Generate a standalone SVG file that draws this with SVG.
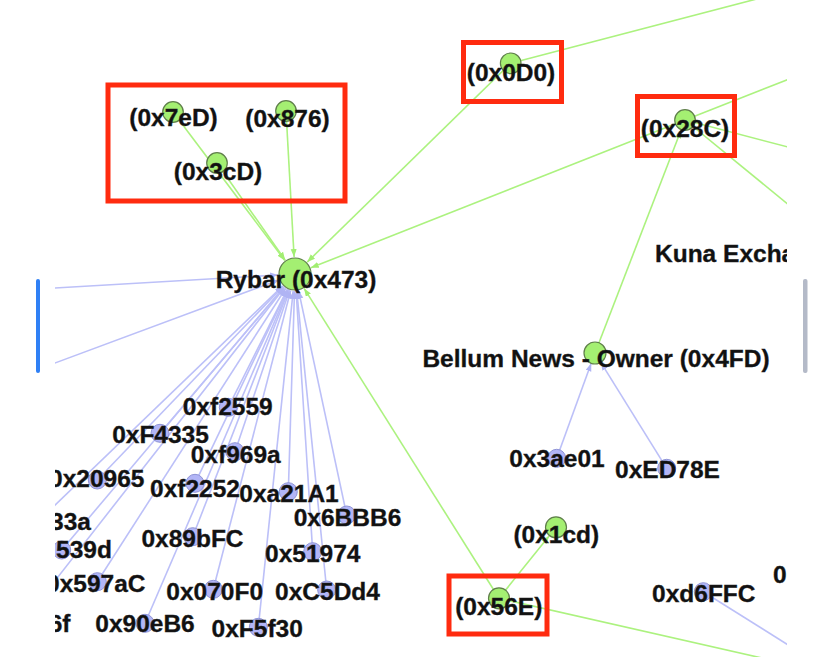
<svg xmlns="http://www.w3.org/2000/svg" width="839" height="668" viewBox="0 0 839 668">
<style>
.ge{stroke:#acf27f;stroke-width:1.6;fill:none}
.be{stroke:#bcc0f8;stroke-width:1.6;fill:none}
.gn{fill:#a4ef72;stroke:#5f7f4a;stroke-width:1.2}
.bn{fill:#b2b5f6;stroke:#8e93d6;stroke-width:1}
.lbl{font-family:"Liberation Sans",Arial,Helvetica,sans-serif;font-weight:bold;font-size:24.5px;fill:#111;stroke:#222;stroke-width:0.35;text-anchor:middle}
.lbs{font-family:"Liberation Sans",Arial,Helvetica,sans-serif;font-weight:bold;font-size:24.5px;fill:#111;stroke:#222;stroke-width:0.35;text-anchor:start}
.hl{fill:none;stroke:#ff2b0f;stroke-width:5}
</style>
<defs>
<clipPath id="canvas"><rect x="55" y="0" width="732" height="657"/></clipPath>
<marker id="ag" markerUnits="userSpaceOnUse" markerWidth="9" markerHeight="7" refX="8" refY="3" orient="auto"><path d="M0,0 L8,3 L0,6 z" fill="#a2ee72"/></marker>
<marker id="ab" markerUnits="userSpaceOnUse" markerWidth="9" markerHeight="7" refX="8" refY="3" orient="auto"><path d="M0,0 L8,3 L0,6 z" fill="#b0b4f4"/></marker>
</defs>
<rect width="839" height="668" fill="#ffffff"/>
<rect x="36" y="279" width="4" height="94" rx="2" fill="#2f80f5"/>
<rect x="803" y="279" width="4.5" height="94" rx="2" fill="#b4bac8"/>
<g clip-path="url(#canvas)">
<g id="connectors">
<line class="be" x1="228.3" y1="407.3" x2="287.4" y2="289.2" marker-end="url(#ab)"/>
<line class="be" x1="160" y1="433.3" x2="284" y2="287" marker-end="url(#ab)"/>
<line class="be" x1="235" y1="451.7" x2="289.6" y2="290.1" marker-end="url(#ab)"/>
<line class="be" x1="97.3" y1="480" x2="283.2" y2="286.3" marker-end="url(#ab)"/>
<line class="be" x1="195" y1="483.3" x2="287.7" y2="289.3" marker-end="url(#ab)"/>
<line class="be" x1="288.3" y1="491.7" x2="294.5" y2="291" marker-end="url(#ab)"/>
<line class="be" x1="346.7" y1="515" x2="298.6" y2="290.6" marker-end="url(#ab)"/>
<line class="be" x1="14" y1="544.5" x2="282.8" y2="285.8" marker-end="url(#ab)"/>
<line class="be" x1="61.7" y1="550" x2="284" y2="287" marker-end="url(#ab)"/>
<line class="be" x1="97.3" y1="581.7" x2="285.8" y2="288.3" marker-end="url(#ab)"/>
<line class="be" x1="30" y1="612.7" x2="284.5" y2="287.4" marker-end="url(#ab)"/>
<line class="be" x1="192.7" y1="536.7" x2="288.8" y2="289.8" marker-end="url(#ab)"/>
<line class="be" x1="312.7" y1="551.7" x2="296.1" y2="291" marker-end="url(#ab)"/>
<line class="be" x1="213.3" y1="589.3" x2="290.7" y2="290.5" marker-end="url(#ab)"/>
<line class="be" x1="326.7" y1="590" x2="296.7" y2="290.9" marker-end="url(#ab)"/>
<line class="be" x1="145" y1="623.3" x2="288.3" y2="289.6" marker-end="url(#ab)"/>
<line class="be" x1="258.3" y1="627.3" x2="293.2" y2="290.9" marker-end="url(#ab)"/>
<line class="be" x1="-4.4" y1="291.4" x2="278" y2="275" marker-end="url(#ab)"/>
<line class="be" x1="13.8" y1="378.3" x2="279.1" y2="279.9" marker-end="url(#ab)"/>
<line class="be" x1="556.7" y1="458.3" x2="591.2" y2="363.3" marker-end="url(#ab)"/>
<line class="be" x1="666.7" y1="468.3" x2="600.8" y2="362.3" marker-end="url(#ab)"/>
<line class="be" x1="703.3" y1="591.7" x2="850" y2="683.7"/>
<line class="ge" x1="173" y1="112" x2="284.8" y2="260.4" marker-end="url(#ag)"/>
<line class="ge" x1="217" y1="163" x2="285.2" y2="260.1" marker-end="url(#ag)"/>
<line class="ge" x1="286" y1="111" x2="294.1" y2="257" marker-end="url(#ag)"/>
<line class="ge" x1="510.7" y1="63.3" x2="307.2" y2="262.1" marker-end="url(#ag)"/>
<line class="ge" x1="685" y1="120" x2="310.8" y2="267.8" marker-end="url(#ag)"/>
<line class="ge" x1="499" y1="598.3" x2="304.1" y2="288.4" marker-end="url(#ag)"/>
<line class="ge" x1="595" y1="353" x2="681" y2="130.3" marker-end="url(#ag)"/>
<line class="ge" x1="499" y1="598.3" x2="549.1" y2="535.9" marker-end="url(#ag)"/>
<line class="ge" x1="499" y1="598.3" x2="850" y2="678"/>
<line class="ge" x1="510.7" y1="63.3" x2="850" y2="-25.4"/>
<line class="ge" x1="685" y1="120" x2="850" y2="55.1"/>
<line class="ge" x1="685" y1="120" x2="850" y2="163.3"/>
<line class="ge" x1="685" y1="120" x2="850" y2="255"/>
</g>
<g id="n-rybar"><circle class="gn" cx="295" cy="274" r="16"/><text class="lbl" x="296" y="288">Rybar (0x473)</text></g>
<g id="n-7eD"><circle class="gn" cx="173" cy="112" r="10.3"/><text class="lbl" x="173.5" y="126">(0x7eD)</text></g>
<g id="n-876"><circle class="gn" cx="286" cy="111" r="10.3"/><text class="lbl" x="287.5" y="127">(0x876)</text></g>
<g id="n-3cD"><circle class="gn" cx="217" cy="163" r="10.3"/><text class="lbl" x="218" y="180">(0x3cD)</text></g>
<g id="n-0D0"><circle class="gn" cx="510.7" cy="63.3" r="10.3"/><text class="lbl" x="511" y="81">(0x0D0)</text></g>
<g id="n-28C"><circle class="gn" cx="685" cy="120" r="10.3"/><text class="lbl" x="685" y="137">(0x28C)</text></g>
<g id="n-kuna"><text class="lbs" x="655" y="261.7">Kuna Excha</text></g>
<g id="n-4FD"><circle class="gn" cx="595" cy="353" r="11"/><text class="lbl" x="596" y="366.7">Bellum News - Owner (0x4FD)</text></g>
<g id="n-1cd"><circle class="gn" cx="556" cy="527.3" r="10.5"/><text class="lbl" x="556.3" y="543.3">(0x1cd)</text></g>
<g id="n-56E"><circle class="gn" cx="499" cy="598.3" r="10.5"/><text class="lbl" x="498.8" y="615">(0x56E)</text></g>
<g id="n-3ae01"><circle class="bn" cx="556.7" cy="458.3" r="9"/><text class="lbl" x="557" y="467.3">0x3ae01</text></g>
<g id="n-ED78E"><circle class="bn" cx="666.7" cy="468.3" r="9"/><text class="lbl" x="667.5" y="478.3">0xED78E</text></g>
<g id="n-d6FFC"><circle class="bn" cx="703.3" cy="591.7" r="9"/><text class="lbl" x="703.8" y="601.7">0xd6FFC</text></g>
<g id="n-0"><text class="lbs" x="773" y="583.3">0</text></g>
<g id="n-f2559"><circle class="bn" cx="228.3" cy="407.3" r="9"/><text class="lbl" x="227.7" y="415">0xf2559</text></g>
<g id="n-F4335"><circle class="bn" cx="160" cy="433.3" r="9"/><text class="lbl" x="160.5" y="443.3">0xF4335</text></g>
<g id="n-f969a"><circle class="bn" cx="235" cy="451.7" r="9"/><text class="lbl" x="235.7" y="462.7">0xf969a</text></g>
<g id="n-20965"><circle class="bn" cx="97.3" cy="480" r="9"/><text class="lbs" x="49" y="486.7">0x20965</text></g>
<g id="n-f2252"><circle class="bn" cx="195" cy="483.3" r="9"/><text class="lbl" x="195" y="496.7">0xf2252</text></g>
<g id="n-a21A1"><circle class="bn" cx="288.3" cy="491.7" r="9"/><text class="lbl" x="289" y="501.7">0xa21A1</text></g>
<g id="n-6BBB6"><circle class="bn" cx="346.7" cy="515" r="9"/><text class="lbl" x="347.5" y="525.7">0x6BBB6</text></g>
<g id="n-33a"><text class="lbs" x="50" y="530">33a</text></g>
<g id="n-539d"><circle class="bn" cx="61.7" cy="550" r="9"/><text class="lbs" x="56" y="558.3">539d</text></g>
<g id="n-597aC"><circle class="bn" cx="97.3" cy="581.7" r="9"/><text class="lbs" x="46" y="591.7">0x597aC</text></g>
<g id="n-6f"><text class="lbs" x="48.7" y="631.7">6f</text></g>
<g id="n-89bFC"><circle class="bn" cx="192.7" cy="536.7" r="9"/><text class="lbl" x="192.5" y="546.7">0x89bFC</text></g>
<g id="n-51974"><circle class="bn" cx="312.7" cy="551.7" r="9"/><text class="lbl" x="312.8" y="561.7">0x51974</text></g>
<g id="n-070F0"><circle class="bn" cx="213.3" cy="589.3" r="9"/><text class="lbl" x="214.7" y="600">0x070F0</text></g>
<g id="n-C5Dd4"><circle class="bn" cx="326.7" cy="590" r="9"/><text class="lbl" x="327.5" y="600">0xC5Dd4</text></g>
<g id="n-90eB6"><circle class="bn" cx="145" cy="623.3" r="9"/><text class="lbl" x="145" y="631.7">0x90eB6</text></g>
<g id="n-F5f30"><circle class="bn" cx="258.3" cy="627.3" r="9"/><text class="lbl" x="257.2" y="636.7">0xF5f30</text></g>
<g id="highlights">
<rect class="hl" x="108" y="85" width="237" height="116"/>
<rect class="hl" x="463.5" y="42.5" width="98" height="59"/>
<rect class="hl" x="637.5" y="96.5" width="97" height="59"/>
<rect class="hl" x="449" y="576" width="98" height="58"/>
</g>
</g>
</svg>
